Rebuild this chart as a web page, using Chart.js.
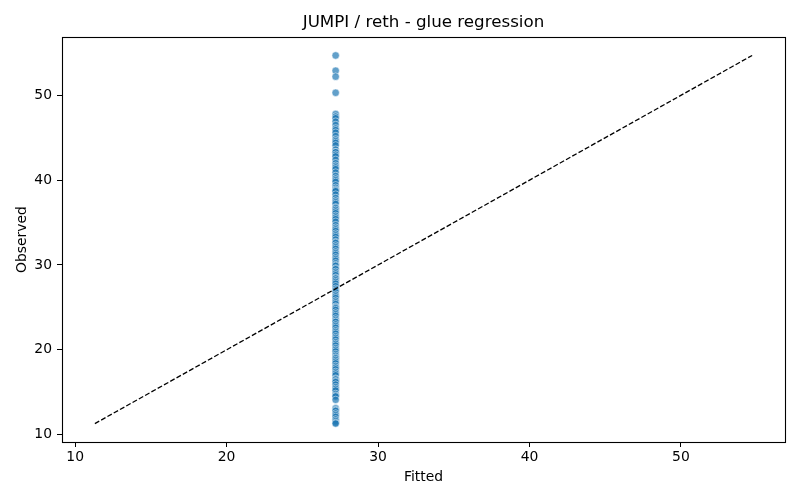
<!DOCTYPE html>
<html>
<head>
<meta charset="utf-8">
<script src="https://cdn.jsdelivr.net/npm/chart.js@4.4.1/dist/chart.umd.min.js"></script>
<style>
  html, body { margin: 0; padding: 0; background: #fff; }
  canvas { display: block; }
</style>
</head>
<body>
<canvas id="myChart" width="800" height="500"></canvas>
<script>
// fitted value is the same for every point (model predicts a constant)
var fittedValue = 27.2;

var observed = [
    54.7, 52.9, 52.2, 50.3,
    47.8, 47.5, 47.3, 46.9, 46.5, 46.1, 45.9, 45.6, 45.2, 44.8, 44.6, 44.4, 44.1,
    43.6, 43.3, 43.3, 43.0, 42.8, 42.4, 42.0, 41.7, 41.5, 41.3, 40.9, 40.5, 40.2,
    40.0, 39.8, 39.4, 39.1, 38.9, 38.8, 38.7, 38.3, 37.9, 37.6, 37.4, 37.2, 36.8,
    36.7, 36.5, 36.3, 36.1, 35.8, 35.6, 35.4, 35.1, 34.7, 34.4, 34.2, 34.0, 33.7,
    33.5, 33.3, 33.0, 32.7, 32.6, 32.3, 32.1, 31.9, 31.6, 31.4, 31.2, 30.9, 30.7,
    30.5, 30.2, 30.0, 29.9, 29.6, 29.5, 29.2, 29.0, 28.8, 28.5, 28.4, 28.2, 28.0,
    27.8, 27.5, 27.2, 27.0, 26.8, 26.5, 26.3, 26.1, 25.8, 25.6, 25.4, 25.1, 25.0,
    24.9, 24.7, 24.4, 24.2, 24.0, 23.7, 23.5, 23.3, 23.3, 23.0, 22.8, 22.6, 22.3,
    22.1, 21.9, 21.6, 21.4, 21.2, 20.9, 20.7, 20.5, 20.2, 20.0, 19.8, 19.5, 19.3,
    19.1, 19.0, 18.8, 18.6, 18.4, 18.1, 17.9, 17.7, 17.4, 17.2, 17.0, 16.6, 16.5,
    16.3, 16.2, 15.9, 15.6, 15.4, 15.2, 14.8, 14.6, 14.5, 14.1,
    13.1, 12.9, 12.8, 12.5, 12.3, 12.1, 11.8, 11.6, 11.4, 11.3
];

// y = x reference line, from min to max observed
var refLine = [11.3, 54.7];

var axisMin = 9.13;
var axisMax = 56.87;
var tickValues = [10, 20, 30, 40, 50];

var titleText = 'JUMPI / reth - glue regression';
var xLabel = 'Fitted';
var yLabel = 'Observed';

var fontFamily = '"DejaVu Sans", sans-serif';

var points = observed.map(function (v) {
    return {x: fittedValue, y: v};
});

var frame = {
    id: 'frame',
    afterDraw: function (chart) {
        var a = chart.chartArea;
        var c = chart.ctx;
        c.save();
        c.strokeStyle = '#000';
        c.lineWidth = 1.1;
        c.strokeRect(Math.round(a.left) + 0.5, Math.round(a.top) + 0.5,
            Math.round(a.right - a.left), Math.round(a.bottom - a.top));
        c.restore();
    }
};

var fixedTicks = function (scale) {
    scale.ticks = tickValues.map(function (v) { return {value: v}; });
};

var tickFont = {family: fontFamily, size: 13.9};
var labelFont = {family: fontFamily, size: 13.9};

var myChart = new Chart(document.getElementById('myChart'), {
    type: 'scatter',
    data: {
        datasets: [
            {
                type: 'line',
                data: [{x: refLine[0], y: refLine[0]}, {x: refLine[1], y: refLine[1]}],
                borderColor: '#000',
                borderWidth: 1.3,
                borderDash: [5, 2.2],
                pointRadius: 0,
                fill: false,
                order: 0
            },
            {
                data: points,
                backgroundColor: 'rgba(31,119,180,0.7)',
                borderColor: 'rgba(255,255,255,0.7)',
                borderWidth: 0.7,
                pointRadius: 3.7,
                pointHoverRadius: 3.7,
                order: 1
            }
        ]
    },
    options: {
        responsive: false,
        devicePixelRatio: 1,
        animation: false,
        layout: {padding: {left: 0, right: 15, top: 0, bottom: 0}},
        plugins: {
            legend: {display: false},
            tooltip: {enabled: false},
            title: {
                display: true,
                fullSize: false,
                text: titleText,
                color: '#000',
                font: {family: fontFamily, size: 16.7, weight: 'normal'},
                padding: {top: 12.5, bottom: 4.5}
            }
        },
        scales: {
            x: {
                type: 'linear',
                min: axisMin,
                max: axisMax,
                afterBuildTicks: fixedTicks,
                afterFit: function (scale) { scale.height = 58; },
                grid: {drawOnChartArea: false, drawTicks: true, tickLength: 5, tickColor: '#000'},
                border: {display: false},
                ticks: {color: '#000', font: tickFont, padding: 2, maxRotation: 0},
                title: {display: true, text: xLabel, color: '#000', font: labelFont, padding: {top: 0, bottom: 14.7}}
            },
            y: {
                type: 'linear',
                min: axisMin,
                max: axisMax,
                afterBuildTicks: fixedTicks,
                afterFit: function (scale) { scale.width = 62; },
                grid: {drawOnChartArea: false, drawTicks: true, tickLength: 5, tickColor: '#000'},
                border: {display: false},
                ticks: {color: '#000', font: tickFont, padding: 5},
                title: {display: true, text: yLabel, color: '#000', font: labelFont, padding: {top: 13.7, bottom: 0}}
            }
        }
    },
    plugins: [frame]
});
</script>
</body>
</html>
